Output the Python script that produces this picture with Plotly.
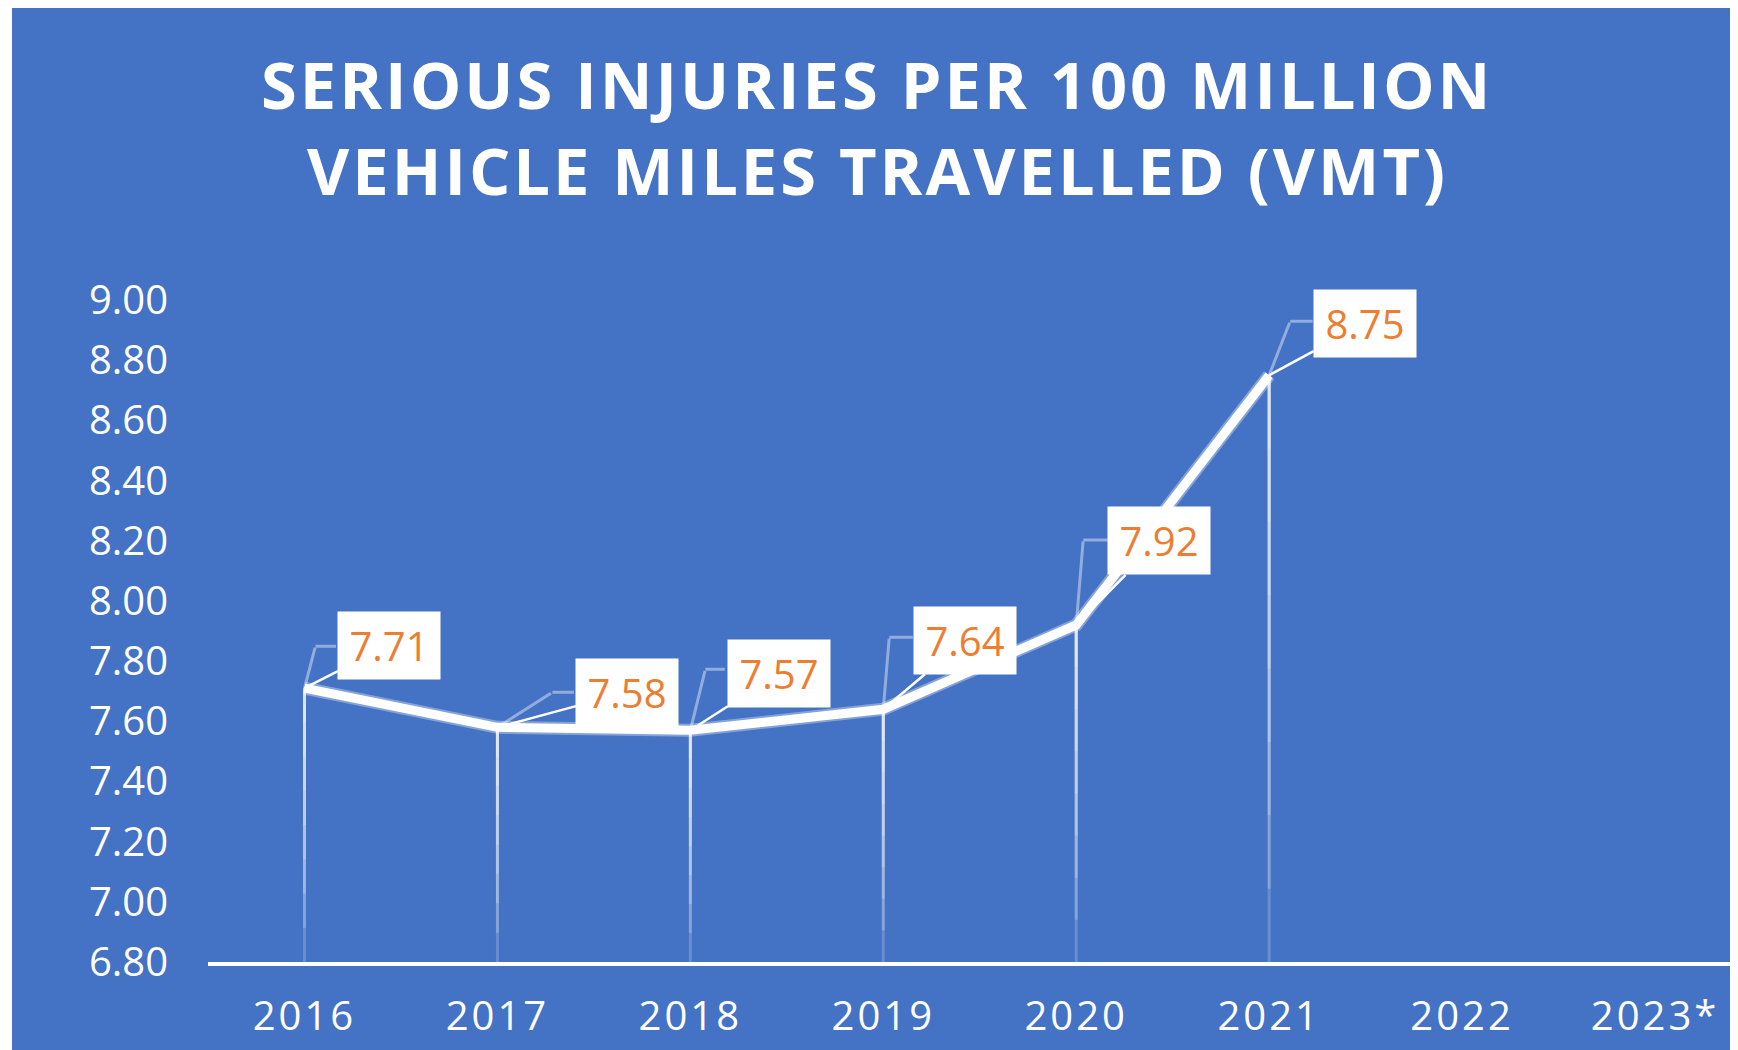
import plotly.graph_objects as go

# ---- data ----
years = ["2016", "2017", "2018", "2019", "2020", "2021", "2022", "2023*"]
injury_rate = [7.71, 7.58, 7.57, 7.64, 7.92, 8.75, None, None]
y_tick_values = [6.8, 7.0, 7.2, 7.4, 7.6, 7.8, 8.0, 8.2, 8.4, 8.6, 8.8, 9.0]
y_tick_labels = ["6.80", "7.00", "7.20", "7.40", "7.60", "7.80", "8.00",
                 "8.20", "8.40", "8.60", "8.80", "9.00"]
title_lines = ["SERIOUS INJURIES PER 100 MILLION", "VEHICLE MILES TRAVELLED (VMT)"]

# ---- styles ----
BLUE = "#4472C4"
ORANGE = "#ED7D31"
FONT = "Open Sans"
Y_MIN, Y_MAX = 6.8, 9.0
# label box offsets (pixels) relative to each point
label_offsets = [(85, -43), (130, -35), (89, -57), (82, -69), (83, -84), (96, -52)]
# translucent elbow leader: corner offset and horizontal run end (pixels)
elbow_corner = [(11, -42), (55, -35), (15, -61), (6, -72), (7, -85), (21, -54)]
elbow_end_x = [33, 78, 36, 31, 33, 45]
title_line_pos = [1.327, 1.197]  # paper y of each title line
ELBOW_COLOR = "rgba(255,255,255,0.42)"

xs = list(range(len(years)))

fig = go.Figure()

# drop lines from each point to the axis, layered to fade toward the bottom
valid = [(i, v) for i, v in zip(xs, injury_rate) if v is not None]
vx = [i for i, _ in valid]
vy = [v for _, v in valid]
for k in range(8, 0, -1):
    frac = k / 8
    fig.add_trace(go.Scatter(
        x=vx, y=vy, mode="markers",
        marker=dict(size=1, opacity=0),
        error_y=dict(type="data", symmetric=False,
                     array=[0] * len(vy),
                     arrayminus=[(v - Y_MIN) * frac for v in vy],
                     thickness=3, width=0, color="rgba(255,255,255,0.2)"),
        hoverinfo="skip", showlegend=False,
    ))

# soft halo under the main line
fig.add_trace(go.Scatter(
    x=xs, y=injury_rate, mode="lines",
    line=dict(color="rgba(255,255,255,0.35)", width=13),
    hoverinfo="skip", showlegend=False,
))
# main line
fig.add_trace(go.Scatter(
    x=xs, y=injury_rate, mode="lines",
    line=dict(color="white", width=9),
    showlegend=False,
))

# translucent elbow leaders
for (i, v), (cx, cy), ex in zip(valid, elbow_corner, elbow_end_x):
    # rising segment from point to corner
    fig.add_annotation(
        x=i, y=v, xref="x", yref="y", text="",
        showarrow=True, arrowhead=0, arrowwidth=3, arrowcolor=ELBOW_COLOR,
        standoff=0, ax=cx, ay=cy,
    )
    # horizontal run from the corner toward the label box
    fig.add_annotation(
        x=i, y=v, xref="x", yref="y", text="",
        xshift=cx, yshift=-cy,
        showarrow=True, arrowhead=0, arrowwidth=3, arrowcolor=ELBOW_COLOR,
        standoff=0, ax=ex - cx, ay=0,
    )

# data labels
for (i, v), (ax, ay) in zip(valid, label_offsets):
    fig.add_annotation(
        x=i, y=v, xref="x", yref="y",
        text=f"{v:.2f}",
        font=dict(family=FONT, size=40, color=ORANGE),
        bgcolor="white", borderpad=6, width=90,
        showarrow=True, arrowhead=0, arrowwidth=2.5, arrowcolor="white",
        standoff=0, ax=ax, ay=ay,
    )

# title lines
for line, ypos in zip(title_lines, title_line_pos):
    fig.add_annotation(
        x=0.4373, y=ypos, xref="paper", yref="paper",
        xanchor="center", yanchor="middle", showarrow=False,
        text=f"<b><span style='letter-spacing:3px'>{line}</span></b>",
        font=dict(family=FONT, size=65, color="white"),
    )

fig.update_layout(
    width=1730, height=1042, autosize=False,
    paper_bgcolor=BLUE, plot_bgcolor=BLUE,
    margin=dict(l=200, r=0, t=292, b=88),
    xaxis=dict(
        range=[-0.5, 7.43],
        showline=True, linecolor="white", linewidth=4,
        showgrid=False, zeroline=False, ticks="",
        tickvals=xs,
        ticktext=[f"<span style='letter-spacing:3px'>{y}</span>" for y in years],
        tickfont=dict(family=FONT, size=40, color="white"),
        ticklabelstandoff=16,
    ),
    yaxis=dict(
        range=[Y_MIN, Y_MAX],
        showline=False, showgrid=False, zeroline=False, ticks="",
        tickvals=y_tick_values, ticktext=y_tick_labels,
        tickfont=dict(family=FONT, size=40, color="white"),
        ticklabelstandoff=39,
    ),
    shapes=[
        # extra white border strip on the left as in the reference
        dict(type="rect", xref="paper", xsizemode="pixel", xanchor=0,
             x0=-202, x1=-196, yref="paper", y0=-0.3, y1=1.7,
             fillcolor="white", line=dict(width=0)),
    ],
)

fig.write_html("out.html")
